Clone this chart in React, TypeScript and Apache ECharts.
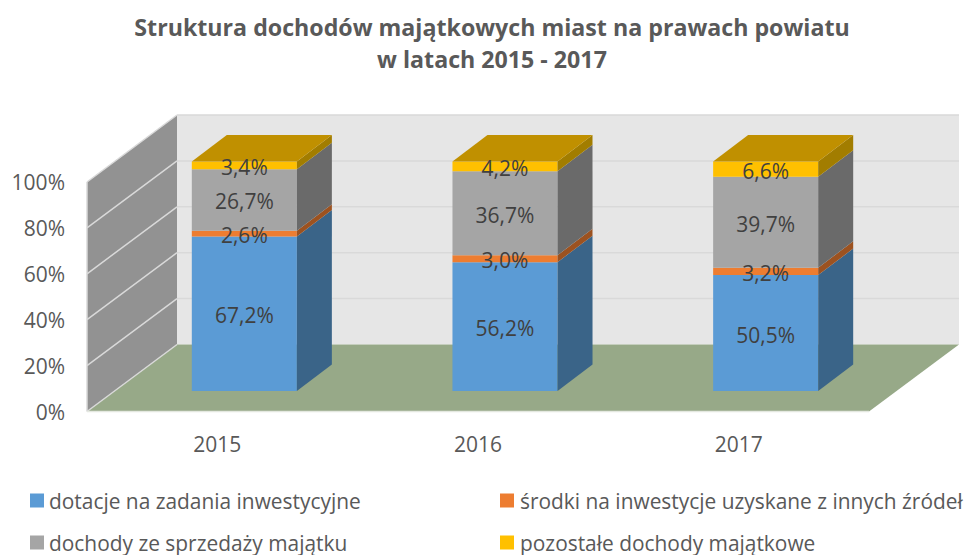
import React, { useEffect, useRef } from "react";
import * as echarts from "echarts";

const titleText = "Struktura dochodów majątkowych miast na prawach powiatu\nw latach 2015 - 2017";
const categories = ["2015", "2016", "2017"];
const seriesNames = [
  "dotacje na zadania inwestycyjne",
  "środki na inwestycje uzyskane z innych źródeł",
  "dochody ze sprzedaży majątku",
  "pozostałe dochody majątkowe",
];
const dotacje = [67.2, 56.2, 50.5];
const srodki = [2.6, 3.0, 3.2];
const sprzedaz = [26.7, 36.7, 39.7];
const pozostale = [3.4, 4.2, 6.6];
const yTicks = [0, 20, 40, 60, 80, 100];

const values = [dotacje, srodki, sprzedaz, pozostale];
const frontColors = ["#5b9bd5", "#ed7d31", "#a5a5a5", "#ffc000"];
const sideColors = ["#3a6488", "#9c5220", "#6a6a6a", "#a27d00"];
const topColor = "#c09000";
const FONT = "'Open Sans', sans-serif";

const WALL_DX = 90;
const WALL_DY = -67;
const BAR_OFFSET_X = 27;
const BAR_OFFSET_Y = -20.5;
const BAR_WIDTH_RATIO = 0.403;
const BAR_DX = 35;
const BAR_DY = -26.5;

const poly = (points: number[][], fill: string, z2: number) => ({
  type: "polygon",
  z2,
  shape: { points },
  style: { fill, stroke: "none" },
});
const line = (a: number[], b: number[], z2: number, color = "#d9d9d9") => ({
  type: "line",
  z2,
  shape: { x1: a[0], y1: a[1], x2: b[0], y2: b[1] },
  style: { stroke: color, lineWidth: 1.5 },
});

export default function App() {
  const ref = useRef<HTMLDivElement>(null);
  useEffect(() => {
    document.body.style.margin = "0";
    const chart = echarts.init(ref.current!, undefined, { renderer: "svg" });

    const shift = (p: number[], dx: number, dy: number) => [p[0] + dx, p[1] + dy];

    const wallSeries = {
      type: "custom",
      silent: true,
      z: 1,
      data: [[0, 0]],
      renderItem: (_: any, api: any) => {
        const unit = api.size([1, 0])[0];
        const span = unit * categories.length;
        const at = (v: number) => {
          const p = api.coord([0, v]);
          return [p[0] - unit / 2, p[1]];
        };
        const o = at(0);
        const oTop = at(100);
        const oRight = [o[0] + span, o[1]];
        const backO = shift(o, WALL_DX, WALL_DY);
        const backTop = shift(oTop, WALL_DX, WALL_DY);
        const children: any[] = [
          poly([backTop, [backTop[0] + span, backTop[1]], [backO[0] + span, backO[1]], backO], "#e6e6e6", 0),
          poly([o, backO, backTop, oTop], "#929292", 1),
          poly([o, oRight, [backO[0] + span, backO[1]], backO], "#97a988", 1),
        ];
        yTicks.forEach((t) => {
          const p = at(t);
          const back = shift(p, WALL_DX, WALL_DY);
          children.push(line(p, back, 2));
          if (t > 0) children.push(line(back, [back[0] + span, back[1]], 0.5));
        });
        children.push(line(o, oTop, 2));
        children.push(line(o, oRight, 2, "#e4e8e0"));
        return { type: "group", children };
      },
    };

    const stackSeries = seriesNames.map((name, si) => ({
      type: "custom",
      name,
      z: 2,
      itemStyle: { color: frontColors[si] },
      encode: { x: 0, y: [1, 2] },
      data: categories.map((_, ci) => {
        const total = values.reduce((s, v) => s + v[ci], 0);
        let start = 0;
        for (let k = 0; k < si; k++) start += values[k][ci];
        const end = start + values[si][ci];
        return [ci, (start / total) * 100, (end / total) * 100, values[si][ci]];
      }),
      renderItem: (_: any, api: any) => {
        const ci = api.value(0);
        const base = api.coord([ci, api.value(1)]);
        const tip = api.coord([ci, api.value(2)]);
        const w = api.size([1, 0])[0] * BAR_WIDTH_RATIO;
        const xl = base[0] + BAR_OFFSET_X - w / 2;
        const xr = xl + w;
        const yb = base[1] + BAR_OFFSET_Y;
        const yt = tip[1] + BAR_OFFSET_Y;
        const children: any[] = [
          poly([[xl, yb], [xr, yb], [xr, yt], [xl, yt]], frontColors[si], si * 2 + 1),
          poly([[xr, yb], [xr + BAR_DX, yb + BAR_DY], [xr + BAR_DX, yt + BAR_DY], [xr, yt]], sideColors[si], si * 2 + 1),
        ];
        if (si === seriesNames.length - 1) {
          children.push(poly([[xl, yt], [xr, yt], [xr + BAR_DX, yt + BAR_DY], [xl + BAR_DX, yt + BAR_DY]], topColor, si * 2 + 1));
        }
        children.push({
          type: "text",
          z2: 100,
          x: (xl + xr) / 2,
          y: (yb + yt) / 2 + 1.5,
          style: {
            text: api.value(3).toFixed(1).replace(".", ",") + "%",
            fill: "#404040",
            font: `21px ${FONT}`,
            align: "center",
            verticalAlign: "middle",
          },
        });
        return { type: "group", children };
      },
    }));

    const legendAt = (si: number, left: number, top: number, pad: number) => ({
      data: [{ name: seriesNames[si], icon: "rect", itemStyle: { color: frontColors[si] } }],
      left,
      top,
      itemWidth: 14,
      itemHeight: 14,
      itemGap: 0,
      padding: 0,
      selectedMode: false,
      textStyle: { color: "#595959", fontFamily: FONT, fontSize: 20.9, lineHeight: 20, padding: [0, 0, 0, pad] },
    });

    chart.setOption({
      animation: false,
      backgroundColor: "#ffffff",
      title: {
        text: titleText,
        left: 487,
        top: 6,
        textAlign: "center",
        textStyle: { color: "#595959", fontFamily: FONT, fontSize: 23.2, fontWeight: "bold", lineHeight: 32 },
      },
      legend: [
        legendAt(0, 30, 490, 0),
        legendAt(1, 500, 490, 1),
        legendAt(2, 30, 532, 0),
        legendAt(3, 500, 532, 1),
      ],
      grid: { left: 87, right: 96, top: 182, height: 229.5 },
      xAxis: {
        type: "category",
        data: categories,
        axisLine: { show: false },
        axisTick: { show: false },
        splitLine: { show: false },
        axisLabel: { color: "#595959", fontFamily: FONT, fontSize: 21, margin: 22 },
      },
      yAxis: {
        type: "value",
        min: 0,
        max: 100,
        interval: 20,
        axisLine: { show: false },
        axisTick: { show: false },
        splitLine: { show: false },
        axisLabel: { color: "#595959", fontFamily: FONT, fontSize: 21, margin: 22, lineHeight: 23, verticalAlign: "middle", padding: [4, 0, 0, 0], formatter: "{value}%" },
      },
      series: [wallSeries, ...stackSeries],
    });
    return () => chart.dispose();
  }, []);
  return <div ref={ref} style={{ position: "absolute", left: 0, top: 0, width: 965, height: 555 }} />;
}
